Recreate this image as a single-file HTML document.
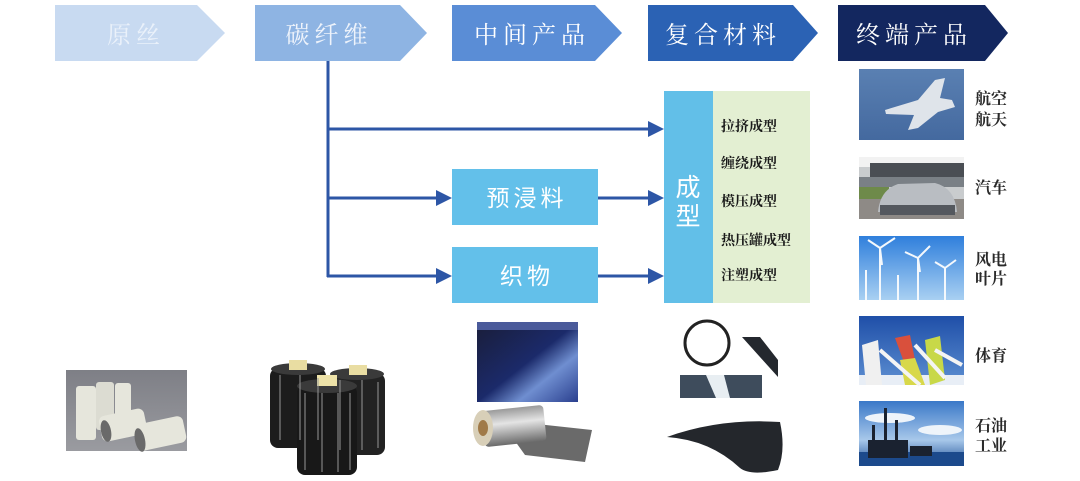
<!DOCTYPE html>
<html><head><meta charset="utf-8"><style>
html,body{margin:0;padding:0;background:#fff;}
svg{display:block;}
.h{font-family:"Liberation Serif","Noto Serif CJK SC",serif;font-size:24px;text-anchor:middle;letter-spacing:5px;}
.lb{font-family:"Liberation Serif","Noto Serif CJK SC",serif;font-size:14px;font-weight:bold;fill:#1a1a1a;}
.rl{font-family:"Liberation Serif","Noto Serif CJK SC",serif;font-size:16px;font-weight:bold;fill:#2a2a2a;text-anchor:middle;}
.bx{font-family:"Liberation Sans","Noto Sans CJK SC",sans-serif;font-size:23px;fill:#fff;text-anchor:middle;letter-spacing:4px;}
</style></head><body>
<svg width="1080" height="481" viewBox="0 0 1080 481" xmlns="http://www.w3.org/2000/svg">
<defs>
<linearGradient id="sky1" x1="0" y1="0" x2="0" y2="1"><stop offset="0" stop-color="#5a80b2"/><stop offset="1" stop-color="#44699f"/></linearGradient>
<linearGradient id="sky3" x1="0" y1="0" x2="0" y2="1"><stop offset="0" stop-color="#2f7fdc"/><stop offset="1" stop-color="#a9d0f2"/></linearGradient>
<linearGradient id="sky4" x1="0" y1="0" x2="0" y2="1"><stop offset="0" stop-color="#1f4fa8"/><stop offset="1" stop-color="#5d8fd2"/></linearGradient>
<linearGradient id="sky5" x1="0" y1="0" x2="0" y2="1"><stop offset="0" stop-color="#3a78c8"/><stop offset="0.6" stop-color="#a8c8ea"/><stop offset="1" stop-color="#1d4f95"/></linearGradient>
<linearGradient id="gray" x1="0" y1="0" x2="0" y2="1"><stop offset="0" stop-color="#7e7f86"/><stop offset="1" stop-color="#9a9ba0"/></linearGradient>
<linearGradient id="fab" x1="0" y1="0" x2="1" y2="1"><stop offset="0" stop-color="#1a1d38"/><stop offset="0.5" stop-color="#1b2a6a"/><stop offset="0.7" stop-color="#6f8ed0"/><stop offset="1" stop-color="#2a3f8e"/></linearGradient>
<linearGradient id="cyl" x1="0" y1="0" x2="0" y2="1"><stop offset="0" stop-color="#9a9a9a"/><stop offset="0.4" stop-color="#e4e4e4"/><stop offset="1" stop-color="#6a6a6a"/></linearGradient>
</defs>

<!-- header chevrons -->
<polygon points="55,5 197,5 225,33 197,61 55,61" fill="#c8daf1"/>
<polygon points="255,5 400,5 427,33 400,61 255,61" fill="#8eb4e3"/>
<polygon points="452,5 595,5 622,33 595,61 452,61" fill="#5a8dd6"/>
<polygon points="648,5 793,5 818,33 793,61 648,61" fill="#2b62b4"/>
<polygon points="838,5 985,5 1008,33 985,61 838,61" fill="#13275f"/>
<text x="136" y="43" class="h" fill="#eaf1fa">原丝</text>
<text x="329" y="43" class="h" fill="#eef3fb">碳纤维</text>
<text x="532" y="43" class="h" fill="#fff">中间产品</text>
<text x="723" y="43" class="h" fill="#fff">复合材料</text>
<text x="914" y="43" class="h" fill="#fff">终端产品</text>

<!-- connectors -->
<g stroke="#2d56a6" stroke-width="3" fill="none">
<line x1="328" y1="61" x2="328" y2="277"/>
<line x1="327" y1="129" x2="650" y2="129"/>
<line x1="327" y1="198" x2="438" y2="198"/>
<line x1="327" y1="276" x2="438" y2="276"/>
<line x1="598" y1="198" x2="650" y2="198"/>
<line x1="598" y1="276" x2="650" y2="276"/>
</g>
<g fill="#2d56a6">
<polygon points="648,121 664,129 648,137"/>
<polygon points="436,190 452,198 436,206"/>
<polygon points="436,268 452,276 436,284"/>
<polygon points="648,190 664,198 648,206"/>
<polygon points="648,268 664,276 648,284"/>
</g>

<!-- intermediate boxes -->
<rect x="452" y="169" width="146" height="56" fill="#63c0ea"/>
<rect x="452" y="247" width="146" height="56" fill="#63c0ea"/>
<text x="527" y="206" class="bx">预浸料</text>
<text x="527" y="284" class="bx">织物</text>

<!-- forming box -->
<rect x="664" y="91" width="49" height="212" fill="#62bfe8"/>
<rect x="713" y="91" width="97" height="212" fill="#e3efd2"/>
<text x="688" y="196" class="bx" style="font-size:25px;letter-spacing:0">成</text>
<text x="688" y="225" class="bx" style="font-size:25px;letter-spacing:0">型</text>
<text x="721" y="131" class="lb">拉挤成型</text>
<text x="721" y="168" class="lb">缠绕成型</text>
<text x="721" y="206" class="lb">模压成型</text>
<text x="721" y="245" class="lb">热压罐成型</text>
<text x="721" y="280" class="lb">注塑成型</text>

<!-- raw fiber image -->
<rect x="66" y="370" width="121" height="81" fill="url(#gray)"/>
<g fill="#e6e6dc">
<rect x="76" y="386" width="20" height="54" rx="3"/>
<rect x="96" y="382" width="18" height="48" rx="3" fill="#dcdcd2"/>
<rect x="115" y="383" width="16" height="42" rx="3"/>
<rect x="100" y="412" width="46" height="26" rx="6" transform="rotate(-12 123 425)"/>
<rect x="135" y="420" width="50" height="27" rx="6" transform="rotate(-12 160 433)"/>
</g>
<ellipse cx="106" cy="431" rx="5" ry="11" fill="#6a6a6a" transform="rotate(-12 106 431)"/>
<ellipse cx="140" cy="440" rx="5" ry="12" fill="#6a6a6a" transform="rotate(-12 140 440)"/>

<!-- carbon fiber spools -->
<g>
<rect x="270" y="368" width="56" height="80" rx="8" fill="#1c1c1c"/>
<rect x="330" y="373" width="55" height="82" rx="8" fill="#222"/>
<ellipse cx="298" cy="369" rx="27" ry="6" fill="#3a3a3a"/>
<ellipse cx="357" cy="374" rx="27" ry="6" fill="#3a3a3a"/>
<rect x="289" y="360" width="18" height="10" fill="#e9dda2"/>
<rect x="349" y="365" width="18" height="10" fill="#e9dda2"/>
<rect x="297" y="385" width="60" height="90" rx="8" fill="#181818"/>
<ellipse cx="327" cy="386" rx="30" ry="7" fill="#3a3a3a"/>
<rect x="317" y="375" width="20" height="11" fill="#ede2a8"/>
<g stroke="#9a9a9a" stroke-width="1.3" opacity="0.75">
<line x1="280" y1="375" x2="280" y2="440"/><line x1="300" y1="375" x2="300" y2="440"/><line x1="318" y1="378" x2="318" y2="440"/>
<line x1="340" y1="380" x2="340" y2="450"/><line x1="362" y1="380" x2="362" y2="450"/><line x1="378" y1="382" x2="378" y2="448"/>
<line x1="305" y1="393" x2="305" y2="470"/><line x1="322" y1="393" x2="322" y2="472"/><line x1="338" y1="393" x2="338" y2="472"/><line x1="350" y1="393" x2="350" y2="470"/>
</g>
</g>

<!-- fabric images -->
<rect x="477" y="322" width="101" height="80" fill="url(#fab)"/>
<rect x="477" y="322" width="101" height="8" fill="#4a5a9a"/>
<g>
<polygon points="500,420 592,430 585,462 525,455" fill="#6a6a6a"/>
<rect x="483" y="408" width="62" height="36" rx="4" fill="url(#cyl)" transform="rotate(-6 514 426)"/>
<ellipse cx="483" cy="428" rx="10" ry="18" fill="#d8cfb8"/>
<ellipse cx="483" cy="428" rx="5" ry="8" fill="#a07a48"/>
</g>

<!-- composite images -->
<circle cx="707" cy="343" r="22" fill="none" stroke="#222" stroke-width="3"/>
<polygon points="742,337 760,337 778,360 778,377" fill="#24282e"/>
<rect x="680" y="375" width="82" height="23" fill="#3e4c5c"/>
<polygon points="706,375 724,375 730,398 716,398" fill="#e8eef2"/>
<path d="M667,437 Q720,418 780,422 Q786,450 778,470 Q750,476 740,468 Q710,440 667,437 Z" fill="#24272c"/>

<!-- end product images -->
<rect x="859" y="69" width="105" height="71" fill="url(#sky1)"/>
<path d="M885,110 L918,100 L935,80 L945,78 L940,98 L952,100 L955,107 L938,112 L918,128 L908,130 L914,115 L886,114 Z" fill="#dfe4ea"/>

<rect x="859" y="157" width="105" height="62" fill="#c9ccce"/>
<rect x="859" y="157" width="105" height="10" fill="#f2f2f2"/>
<rect x="870" y="163" width="94" height="14" fill="#4a4e54"/>
<rect x="859" y="177" width="105" height="10" fill="#7a8086"/>
<rect x="859" y="187" width="30" height="12" fill="#6e8a4a"/>
<rect x="859" y="199" width="105" height="20" fill="#8e8a86"/>
<path d="M878,212 Q880,190 898,184 L935,183 Q955,188 957,212 Z" fill="#b9bdc2"/>
<rect x="880" y="205" width="75" height="10" fill="#54585e"/>

<rect x="859" y="236" width="105" height="64" fill="url(#sky3)"/>
<g stroke="#f4f8fc" stroke-width="2">
<line x1="880" y1="248" x2="880" y2="300"/><line x1="880" y1="248" x2="868" y2="240"/><line x1="880" y1="248" x2="895" y2="238"/><line x1="880" y1="248" x2="882" y2="265"/>
<line x1="918" y1="258" x2="918" y2="300"/><line x1="918" y1="258" x2="905" y2="252"/><line x1="918" y1="258" x2="930" y2="246"/><line x1="918" y1="258" x2="920" y2="272"/>
<line x1="945" y1="268" x2="945" y2="300"/><line x1="945" y1="268" x2="935" y2="262"/><line x1="945" y1="268" x2="956" y2="260"/>
<line x1="898" y1="275" x2="898" y2="300"/><line x1="866" y1="270" x2="866" y2="300"/>
</g>

<rect x="859" y="316" width="105" height="69" fill="url(#sky4)"/>
<rect x="859" y="375" width="105" height="10" fill="#e8eef6"/>
<polygon points="862,345 878,340 882,385 866,385" fill="#f0f0f0"/>
<polygon points="895,338 910,335 915,360 905,365" fill="#d9503c"/>
<polygon points="900,360 915,358 925,385 905,385" fill="#d8d84a"/>
<polygon points="925,340 940,336 945,380 930,385" fill="#c8d848"/>
<g stroke="#f4f4f4" stroke-width="4"><line x1="880" y1="350" x2="920" y2="385"/><line x1="935" y1="350" x2="962" y2="365"/><line x1="915" y1="345" x2="945" y2="378"/></g>

<rect x="859" y="401" width="105" height="65" fill="url(#sky5)"/>
<ellipse cx="890" cy="418" rx="25" ry="5" fill="#eef4fa"/>
<ellipse cx="940" cy="430" rx="22" ry="5" fill="#eef4fa"/>
<rect x="859" y="452" width="105" height="14" fill="#1c4a8c"/>
<g fill="#1a2230">
<rect x="884" y="408" width="3" height="50"/>
<rect x="872" y="425" width="3" height="30"/>
<rect x="895" y="420" width="3" height="35"/>
<rect x="868" y="440" width="40" height="18"/>
<rect x="910" y="446" width="22" height="10"/>
</g>

<!-- right labels -->
<text x="991" y="104" class="rl">航空</text>
<text x="991" y="125" class="rl">航天</text>
<text x="991" y="193" class="rl">汽车</text>
<text x="991" y="265" class="rl">风电</text>
<text x="991" y="284" class="rl">叶片</text>
<text x="991" y="361" class="rl">体育</text>
<text x="991" y="431" class="rl">石油</text>
<text x="991" y="451" class="rl">工业</text>
</svg>
</body></html>
